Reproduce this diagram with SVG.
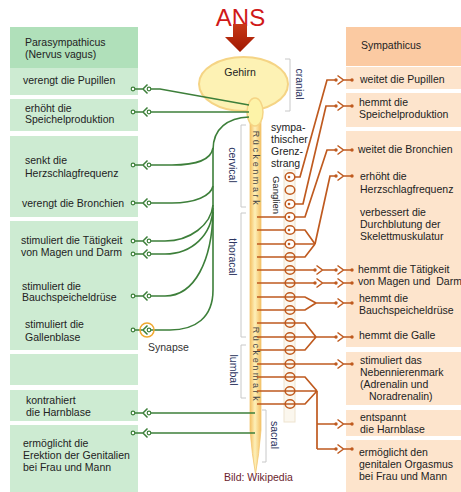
<svg xmlns="http://www.w3.org/2000/svg" width="461" height="492" viewBox="0 0 461 492">
<defs>
<style>
text{font-family:"Liberation Sans",Arial,sans-serif;font-size:10.5px;fill:#222}
.pb{fill:#cdebd2}
.ph{fill:#b0e0ba}
.sb{fill:#fde4cc}
.sh{fill:#fbcaa2}
.g{fill:none;stroke:#3d7f3a;stroke-width:1.6}
.o{fill:none;stroke:#bf5a1f;stroke-width:1.7}
.br{fill:none;stroke:#c8c8c8;stroke-width:1}
.lab{fill:#2d3561}
.gan{fill:none;stroke:#bf5a1f;stroke-width:1.5}
.gs{fill:#fff;stroke:#bf5a1f;stroke-width:1.5}
.rm{font-size:9px;letter-spacing:2.6px;fill:#444}
</style>
<linearGradient id="cord" x1="0" y1="0" x2="1" y2="0">
<stop offset="0" stop-color="#f5c064"/>
<stop offset="0.45" stop-color="#fdf0b8"/>
<stop offset="1" stop-color="#f5c064"/>
</linearGradient>
<linearGradient id="arr" x1="0" y1="0" x2="0" y2="1">
<stop offset="0" stop-color="#c83818"/>
<stop offset="1" stop-color="#a01800"/>
</linearGradient>
<g id="sl">
<circle cx="0" cy="0" r="1.8" fill="#fff" stroke="#3d7f3a" stroke-width="1.2"/>
<path d="M-1.5,-4.5 L-6,0 L-1.5,4.5 M-6,0 H-14.5" fill="none" stroke="#3d7f3a" stroke-width="1.5"/>
<circle cx="-16" cy="0" r="1.8" fill="#fff" stroke="#3d7f3a" stroke-width="1.2"/>
</g>
<g id="sr">
<circle cx="0" cy="0" r="1.7" fill="#bf5a1f"/>
<path d="M1.5,-4.5 L7.5,0 L1.5,4.5 M7.5,0 H15" fill="none" stroke="#bf5a1f" stroke-width="1.5"/>
<circle cx="16" cy="0" r="1.7" fill="#bf5a1f"/>
</g>
<g id="sr2">
<circle cx="0" cy="0" r="1.7" fill="#bf5a1f"/>
<path d="M1.5,-4.5 L7.5,0 L1.5,4.5 M7.5,0 H21" fill="none" stroke="#bf5a1f" stroke-width="1.5"/>
</g>
</defs>
<rect width="461" height="492" fill="#fff"/>

<!-- Parasympathicus column -->
<g id="para-header"><rect class="ph" x="10" y="27" width="128" height="41"/><text x="25" y="46">Parasympathicus</text><text x="25" y="58">(Nervus vagus)</text></g>
<g id="para-pupillen"><rect class="pb" x="10" y="68" width="128" height="27"/><text x="23" y="84">verengt die Pupillen</text></g>
<g id="para-speichel"><rect class="pb" x="10" y="99" width="128" height="32"/><text x="25" y="112">erhöht die</text><text x="25" y="123">Speichelproduktion</text></g>
<g id="para-herz-bronchien"><rect class="pb" x="10" y="136" width="128" height="81"/><text x="25" y="164">senkt die</text><text x="25" y="177">Herzschlagfrequenz</text><text x="22" y="207">verengt die Bronchien</text></g>
<g id="para-verdauung"><rect class="pb" x="10" y="221" width="128" height="129"/><text x="21" y="244">stimuliert die Tätigkeit</text><text x="21" y="256">von Magen und Darm</text><text x="22" y="290">stimuliert die</text><text x="22" y="301">Bauchspeicheldrüse</text><text x="25" y="328">stimuliert die</text><text x="25" y="341">Gallenblase</text></g>
<g id="para-empty"><rect class="pb" x="10" y="354" width="128" height="31"/></g>
<g id="para-harnblase"><rect class="pb" x="10" y="390" width="128" height="31"/><text x="26" y="404">kontrahiert</text><text x="26" y="416">die Harnblase</text></g>
<g id="para-erektion"><rect class="pb" x="10" y="425" width="128" height="67"/><text x="23" y="447">ermöglicht die</text><text x="23" y="459">Erektion der Genitalien</text><text x="23" y="471">bei Frau und Mann</text></g>

<!-- Sympathicus column -->
<g id="sym-header"><rect class="sh" x="346" y="27" width="115" height="39"/><text x="361" y="49">Sympathicus</text></g>
<g id="sym-pupillen"><rect class="sb" x="346" y="67" width="115" height="22"/><text x="360" y="83">weitet die Pupillen</text></g>
<g id="sym-speichel"><rect class="sb" x="346" y="93" width="115" height="34"/><text x="359" y="106">hemmt die</text><text x="359" y="118">Speichelproduktion</text></g>
<g id="sym-organe"><rect class="sb" x="346" y="131" width="115" height="216"/><text x="358" y="153">weitet die Bronchien</text><text x="360" y="180">erhöht die</text><text x="360" y="193">Herzschlagfrequenz</text><text x="360" y="216">verbessert die</text><text x="360" y="228">Durchblutung der</text><text x="360" y="240">Skelettmuskulatur</text><text x="358" y="273">hemmt die Tätigkeit</text><text x="358" y="285" xml:space="preserve">von Magen und  Darm</text><text x="359" y="302">hemmt die</text><text x="359" y="314">Bauchspeicheldrüse</text><text x="359" y="339">hemmt die Galle</text></g>
<g id="sym-nebenniere"><rect class="sb" x="346" y="352" width="115" height="53"/><text x="360" y="364">stimuliert das</text><text x="360" y="376">Nebennierenmark</text><text x="360" y="388">(Adrenalin und</text><text x="369" y="400">Noradrenalin)</text></g>
<g id="sym-harnblase"><rect class="sb" x="346" y="410" width="115" height="26"/><text x="360" y="421">entspannt</text><text x="360" y="433">die Harnblase</text></g>
<g id="sym-orgasmus"><rect class="sb" x="346" y="440" width="115" height="52"/><text x="359" y="456">ermöglicht den</text><text x="359" y="468">genitalen Orgasmus</text><text x="359" y="480">bei Frau und Mann</text></g>

<!-- ANS title -->
<g id="ans">
<text x="240.5" y="26" text-anchor="middle" style="font-size:24px;fill:#d01818">ANS</text>
<path d="M233,24 H247 V37 H255 L240,52 L225,37 H233 Z" fill="url(#arr)"/>
</g>

<!-- Brain and spinal cord -->
<g id="gehirn">
<ellipse cx="243.5" cy="84" rx="44.5" ry="27" fill="#fdf2b4" stroke="#f5d485" stroke-width="2"/>
<text x="240" y="76" text-anchor="middle">Gehirn</text>
</g>
<g id="rueckenmark">
<path d="M250,118 L250,430 Q252,455 255.5,474 Q259,455 261,430 L261,118 Z" fill="url(#cord)" stroke="#f3c873" stroke-width="0.8"/>
<ellipse cx="255" cy="112" rx="8" ry="14" fill="#fdf3a8" stroke="#f5d485" stroke-width="1.5"/>
<text class="rm" transform="translate(253,169) rotate(90)" text-anchor="middle">Rückenmark</text>
<text class="rm" transform="translate(253,365) rotate(90)" text-anchor="middle">Rückenmark</text>
</g>

<!-- Segment brackets -->
<g id="segmente">
<path class="br" d="M285,59 H290 V111 H285"/>
<text class="lab" transform="translate(296,84) rotate(90)" text-anchor="middle">cranial</text>
<path class="br" d="M246,125 H241 V207 H246"/>
<text class="lab" transform="translate(228.5,165) rotate(90)" text-anchor="middle">cervical</text>
<path class="br" d="M246,213 H241 V337 H246"/>
<text class="lab" transform="translate(229,257) rotate(90)" text-anchor="middle">thoracal</text>
<path class="br" d="M246,345 H241 V398 H246"/>
<text class="lab" transform="translate(230,370) rotate(90)" text-anchor="middle">lumbal</text>
<path class="br" d="M262,410 H266 V462 H262"/>
<text class="lab" transform="translate(271,435) rotate(90)" text-anchor="middle">sacral</text>
</g>

<!-- sympathetic trunk -->
<g id="grenzstrang">
<text x="271" y="131">sympa-</text><text x="271" y="143">thischer</text><text x="271" y="155">Grenz-</text><text x="271" y="167">strang</text>
<rect x="284" y="170" width="11" height="252" fill="#fbf7ee" stroke="#eee3cf" stroke-width="1"/>
<text transform="translate(273,195) rotate(90)" text-anchor="middle" style="font-size:9.5px">Ganglien</text>
</g>

<!-- connectors -->
<g id="connectors">
<!-- parasympathetic -->
<path class="g" d="M151,89 L160,89 L249,105"/>
<path class="g" d="M151,112 L249,112"/>
<path class="g" d="M249,117 C228,118 213,128 213,150 L213,290 C213,318 195,330 170,330 L151,330"/>
<path class="g" d="M151,165 L172,165 C195,165 211,160 213,148"/>
<path class="g" d="M151,203 L172,203 C195,203 211,196 213,186"/>
<path class="g" d="M151,241 L165,241 C190,241 211,225 213,205"/>
<path class="g" d="M151,254 L165,254 C192,254 212,235 213,208"/>
<path class="g" d="M151,296 L165,296 C195,296 212,260 213,212"/>
<path class="g" d="M151,413 L255,413"/>
<path class="g" d="M151,433 L255,433"/>
<use href="#sl" x="149" y="89"/>
<use href="#sl" x="149" y="112"/>
<use href="#sl" x="149" y="165"/>
<use href="#sl" x="149" y="203"/>
<use href="#sl" x="149" y="241"/>
<use href="#sl" x="149" y="254"/>
<use href="#sl" x="149" y="296"/>
<use href="#sl" x="149" y="330"/>
<use href="#sl" x="149" y="413"/>
<use href="#sl" x="149" y="433"/>
<!-- sympathetic -->
<path class="o" d="M294,177 L300,177 L327,80 L336,80"/>
<path class="o" d="M294,204 L303,204 L326,106 L336,106"/>
<path class="o" d="M257,217 L305,217 L327,150 L336,150"/>
<path class="o" d="M257,230 H305 L315,244"/>
<path class="o" d="M257,244 H315"/>
<path class="o" d="M257,257 H305 L315,244"/>
<path class="o" d="M315,244 L330,176 H336"/>
<path class="o" d="M257,270 H315"/>
<path class="o" d="M257,283 H315"/>
<path class="o" d="M257,297 H305 L316,303 M257,310 H305 L316,303 M316,303 H336"/>
<path class="o" d="M257,323 H305 L316,337 M257,337 H336 M257,350 H305 L316,337"/>
<path class="o" d="M257,364 H336"/>
<path class="o" d="M257,377 H305 L317,391 M257,391 H317 M257,404 H305 L317,391"/>
<path class="o" d="M317,391 V449 M317,424 H336 M317,449 H336"/>
<use href="#sr2" x="315" y="270"/>
<use href="#sr2" x="315" y="283"/>
<use href="#sr" x="336" y="80"/>
<use href="#sr" x="336" y="106"/>
<use href="#sr" x="336" y="150"/>
<use href="#sr" x="336" y="176"/>
<use href="#sr" x="336" y="270"/>
<use href="#sr" x="336" y="283"/>
<use href="#sr" x="336" y="303"/>
<use href="#sr" x="336" y="337"/>
<use href="#sr" x="336" y="364"/>
<use href="#sr" x="336" y="424"/>
<use href="#sr" x="336" y="449"/>
</g>

<!-- ganglia -->
<g id="ganglien">
<ellipse class="gs" cx="290" cy="177" rx="4.8" ry="4.2"/><circle cx="289" cy="177" r="1.3" fill="#bf5a1f"/>
<ellipse class="gan" cx="290" cy="190" rx="4.8" ry="4.2"/>
<ellipse class="gs" cx="290" cy="204" rx="4.8" ry="4.2"/><circle cx="289" cy="204" r="1.3" fill="#bf5a1f"/>
<ellipse class="gs" cx="290" cy="217" rx="4.8" ry="4.2"/><circle cx="289" cy="217" r="1.3" fill="#bf5a1f"/>
<ellipse class="gs" cx="290" cy="230" rx="4.8" ry="4.2"/><circle cx="289" cy="230" r="1.3" fill="#bf5a1f"/>
<ellipse class="gs" cx="290" cy="244" rx="4.8" ry="4.2"/><circle cx="289" cy="244" r="1.3" fill="#bf5a1f"/>
<ellipse class="gan" cx="290" cy="257" rx="4.8" ry="4.2"/>
<ellipse class="gan" cx="290" cy="270" rx="4.8" ry="4.2"/>
<ellipse class="gan" cx="290" cy="283" rx="4.8" ry="4.2"/>
<ellipse class="gan" cx="290" cy="297" rx="4.8" ry="4.2"/>
<ellipse class="gan" cx="290" cy="310" rx="4.8" ry="4.2"/>
<ellipse class="gan" cx="290" cy="323" rx="4.8" ry="4.2"/>
<ellipse class="gan" cx="290" cy="337" rx="4.8" ry="4.2"/>
<ellipse class="gan" cx="290" cy="350" rx="4.8" ry="4.2"/>
<ellipse class="gan" cx="290" cy="364" rx="4.8" ry="4.2"/>
<ellipse class="gan" cx="290" cy="377" rx="4.8" ry="4.2"/>
<ellipse class="gan" cx="290" cy="391" rx="4.8" ry="4.2"/>
<ellipse class="gan" cx="290" cy="404" rx="4.8" ry="4.2"/>
</g>

<!-- synapse highlight -->
<g id="synapse">
<circle cx="147" cy="330" r="7" fill="none" stroke="#f0a830" stroke-width="1.5"/>
<text x="148" y="351" style="fill:#333">Synapse</text>
</g>
<text x="224" y="481" style="fill:#6b1e2e">Bild: Wikipedia</text>
</svg>
